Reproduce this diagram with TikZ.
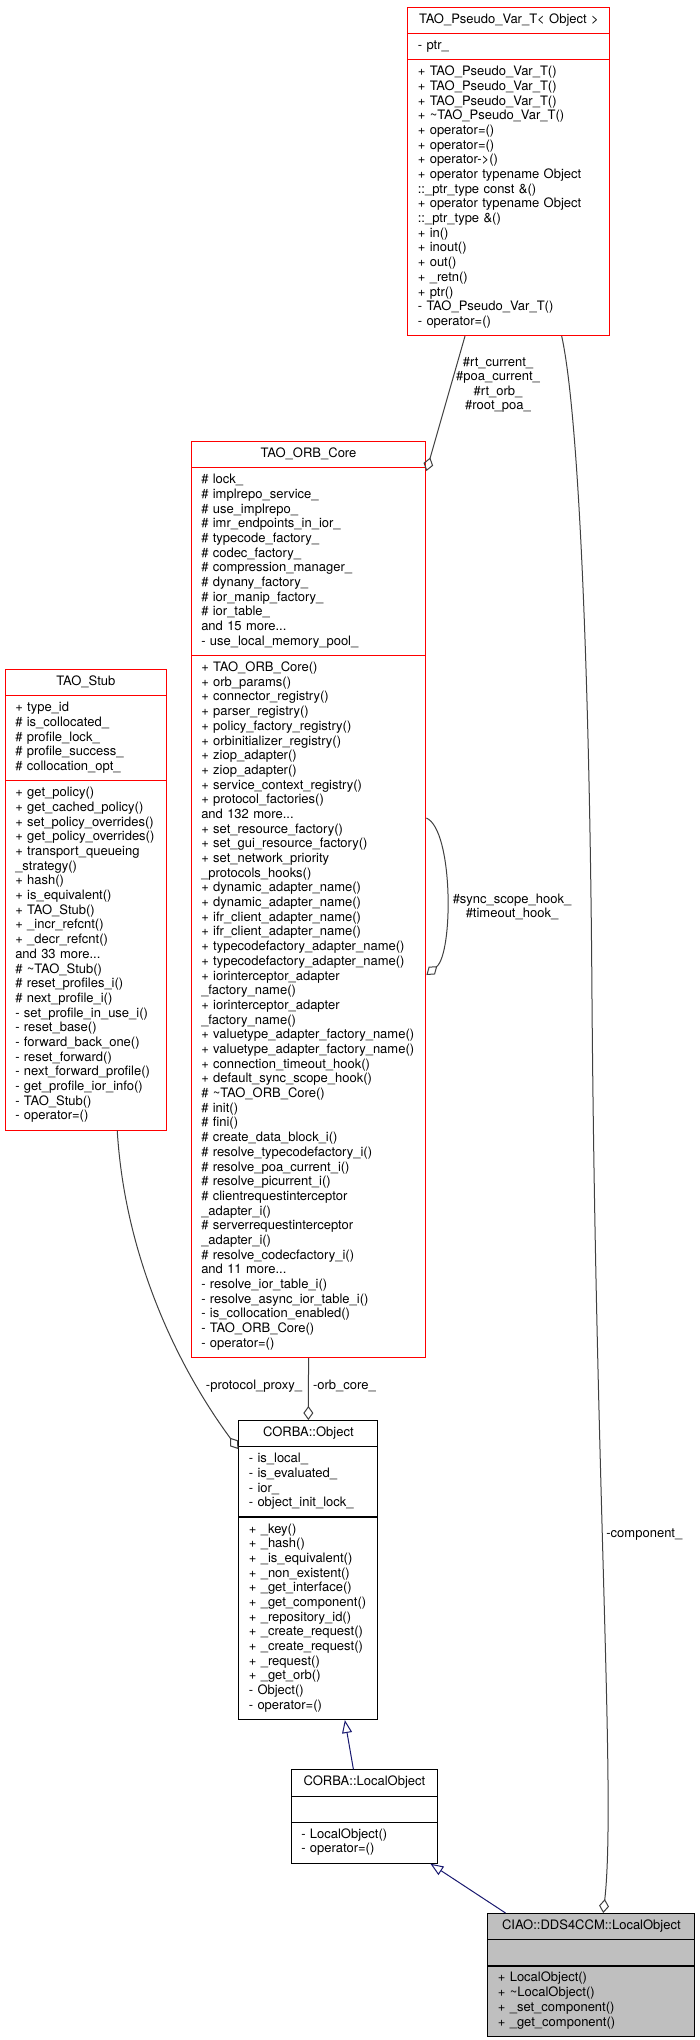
\documentclass[tikz,border=0pt]{standalone}
\usepackage{fontspec}
\setmainfont{TeX Gyre Heros}
\usepackage{xcolor}
\usetikzlibrary{arrows.meta}
\usetikzlibrary{shapes.multipart}
\usetikzlibrary{calc}
\definecolor{edgegray}{HTML}{404040}
\definecolor{inheritblue}{HTML}{191970}
\definecolor{classgray}{HTML}{BFBFBF}

\begin{document}
\begin{tikzpicture}[x=0.5pt, y=-0.5pt,
    umlclass/.style={rectangle split, rectangle split parts=3, draw=red, fill=white,
      line width=0.55pt, anchor=north west, inner xsep=5pt, inner ysep=2.6pt,
      font=\fontsize{6.5}{7.345}\selectfont,
      every text node part/.style={align=center},
      every two node part/.style={align=left},
      every three node part/.style={align=left}},
    plainclass/.style={umlclass, draw=black},
    usage/.style={draw=edgegray, line width=0.5pt, -{Diamond[open, length=7pt, width=5pt]}},
    inherit/.style={draw=inheritblue, line width=0.5pt, -{Triangle[open, length=6.5pt, width=5pt]}},
    edgelabel/.style={font=\fontsize{6.5}{7.2}\selectfont, inner sep=0pt, align=center}]

  % Background
  \fill[white] (0,0) rectangle (700,2040);
  \useasboundingbox (0,0) rectangle (700,2040);

  % Classes
  \node[umlclass, text width=91pt] (pseudovar) at (407.3,6.7)
    {\strut TAO\_Pseudo\_Var\_T<~Object~>\strut
     \nodepart{two}\strut -~ptr\_\strut
     \nodepart{three}\strut +~TAO\_Pseudo\_Var\_T()\\
     +~TAO\_Pseudo\_Var\_T()\\
     +~TAO\_Pseudo\_Var\_T()\\
     +~\textasciitilde TAO\_Pseudo\_Var\_T()\\
     +~operator=()\\
     +~operator=()\\
     +~operator->()\\
     +~operator~typename~Object\\
     ::\_ptr\_type~const~\&()\\
     +~operator~typename~Object\\
     ::\_ptr\_type~\&()\\
     +~in()\\
     +~inout()\\
     +~out()\\
     +~\_retn()\\
     +~ptr()\\
     -~TAO\_Pseudo\_Var\_T()\\
     -~operator=()\strut};

  \node[umlclass, text width=107.3pt] (orbcore) at (190.7,441)
    {\strut TAO\_ORB\_Core\strut
     \nodepart{two}\strut \#~lock\_\\
     \#~implrepo\_service\_\\
     \#~use\_implrepo\_\\
     \#~imr\_endpoints\_in\_ior\_\\
     \#~typecode\_factory\_\\
     \#~codec\_factory\_\\
     \#~compression\_manager\_\\
     \#~dynany\_factory\_\\
     \#~ior\_manip\_factory\_\\
     \#~ior\_table\_\\
     and~15~more...\\
     -~use\_local\_memory\_pool\_\strut
     \nodepart{three}\strut +~TAO\_ORB\_Core()\\
     +~orb\_params()\\
     +~connector\_registry()\\
     +~parser\_registry()\\
     +~policy\_factory\_registry()\\
     +~orbinitializer\_registry()\\
     +~ziop\_adapter()\\
     +~ziop\_adapter()\\
     +~service\_context\_registry()\\
     +~protocol\_factories()\\
     and~132~more...\\
     +~set\_resource\_factory()\\
     +~set\_gui\_resource\_factory()\\
     +~set\_network\_priority\\
     \_protocols\_hooks()\\
     +~dynamic\_adapter\_name()\\
     +~dynamic\_adapter\_name()\\
     +~ifr\_client\_adapter\_name()\\
     +~ifr\_client\_adapter\_name()\\
     +~typecodefactory\_adapter\_name()\\
     +~typecodefactory\_adapter\_name()\\
     +~iorinterceptor\_adapter\\
     \_factory\_name()\\
     +~iorinterceptor\_adapter\\
     \_factory\_name()\\
     +~valuetype\_adapter\_factory\_name()\\
     +~valuetype\_adapter\_factory\_name()\\
     +~connection\_timeout\_hook()\\
     +~default\_sync\_scope\_hook()\\
     \#~\textasciitilde TAO\_ORB\_Core()\\
     \#~init()\\
     \#~fini()\\
     \#~create\_data\_block\_i()\\
     \#~resolve\_typecodefactory\_i()\\
     \#~resolve\_poa\_current\_i()\\
     \#~resolve\_picurrent\_i()\\
     \#~clientrequestinterceptor\\
     \_adapter\_i()\\
     \#~serverrequestinterceptor\\
     \_adapter\_i()\\
     \#~resolve\_codecfactory\_i()\\
     and~11~more...\\
     -~resolve\_ior\_table\_i()\\
     -~resolve\_async\_ior\_table\_i()\\
     -~is\_collocation\_enabled()\\
     -~TAO\_ORB\_Core()\\
     -~operator=()\strut};

  \node[umlclass, text width=70.65pt] (stub) at (4.7,669)
    {\strut TAO\_Stub\strut
     \nodepart{two}\strut +~type\_id\\
     \#~is\_collocated\_\\
     \#~profile\_lock\_\\
     \#~profile\_success\_\\
     \#~collocation\_opt\_\strut
     \nodepart{three}\strut +~get\_policy()\\
     +~get\_cached\_policy()\\
     +~set\_policy\_overrides()\\
     +~get\_policy\_overrides()\\
     +~transport\_queueing\\
     \_strategy()\\
     +~hash()\\
     +~is\_equivalent()\\
     +~TAO\_Stub()\\
     +~\_incr\_refcnt()\\
     +~\_decr\_refcnt()\\
     and~33~more...\\
     \#~\textasciitilde TAO\_Stub()\\
     \#~reset\_profiles\_i()\\
     \#~next\_profile\_i()\\
     -~set\_profile\_in\_use\_i()\\
     -~reset\_base()\\
     -~forward\_back\_one()\\
     -~reset\_forward()\\
     -~next\_forward\_profile()\\
     -~get\_profile\_ior\_info()\\
     -~TAO\_Stub()\\
     -~operator=()\strut};

  \node[plainclass, text width=59.5pt] (corbaobj) at (238.3,1420)
    {\strut CORBA::Object\strut
     \nodepart{two}\strut -~is\_local\_\\
     -~is\_evaluated\_\\
     -~ior\_\\
     -~object\_init\_lock\_\strut
     \nodepart{three}\strut +~\_key()\\
     +~\_hash()\\
     +~\_is\_equivalent()\\
     +~\_non\_existent()\\
     +~\_get\_interface()\\
     +~\_get\_component()\\
     +~\_repository\_id()\\
     +~\_create\_request()\\
     +~\_create\_request()\\
     +~\_request()\\
     +~\_get\_orb()\\
     -~Object()\\
     -~operator=()\strut};

  \node[plainclass, text width=63.15pt] (localobj) at (290.7,1769.3)
    {\strut CORBA::LocalObject\strut
     \nodepart{two}\strut
     \nodepart{three}\strut -~LocalObject()\\
     -~operator=()\strut};

  \node[plainclass, fill=classgray, text width=93.5pt] (ciaolocal) at (487.3,1913)
    {\strut CIAO::DDS4CCM::LocalObject\strut
     \nodepart{two}\strut
     \nodepart{three}\strut +~LocalObject()\\
     +~\textasciitilde LocalObject()\\
     +~\_set\_component()\\
     +~\_get\_component()\strut};

  % Usage relations
  \draw[usage] ($(pseudovar.south)+(-43.85,0)$) -- ($(orbcore.north east)+(0,30)$);
  \node[edgelabel] (rtlabel) at (498,385) {\#rt\_current\_\\\#poa\_current\_\\\#rt\_orb\_\\\#root\_poa\_};

  \draw[usage] ($(orbcore.north east)+(0,377)$) .. controls +(27,12) and +(27,-22) .. ($(orbcore.north east)+(0,534)$);
  \node[edgelabel] (hooklabel) at (512,907) {\#sync\_scope\_hook\_\\\#timeout\_hook\_};

  \draw[usage] ($(stub.south)+(31.35,0)$) .. controls (125,1260) and (180,1370) .. ($(corbaobj.north west)+(0,29)$);
  \node[edgelabel] (proxylabel) at (254,1386) {-protocol\_proxy\_};

  \draw[usage] (orbcore.south) -- (corbaobj.north);
  \node[edgelabel, anchor=west] (orblabel) at (312.7,1386) {-orb\_core\_};

  \coordinate (componentbend) at (592,1000);
  \draw[usage] ($(pseudovar.south)+(52.85,0)$) .. controls (580,420) and (590,700) .. (componentbend)
    .. controls (596,1500) and (616,1800) .. ($(ciaolocal.north)+(11.9,0)$);
  \node[edgelabel, anchor=west] (componentlabel) at (606,1535) {-component\_};

  % Inheritance
  \draw[inherit] ($(localobj.north)+(-11,0)$) -- ($(corbaobj.south)+(36.5,0)$);
  \draw[inherit] ($(ciaolocal.north)+(-85.8,0)$) -- ($(localobj.south)+(66,0)$);
\end{tikzpicture}
\end{document}
